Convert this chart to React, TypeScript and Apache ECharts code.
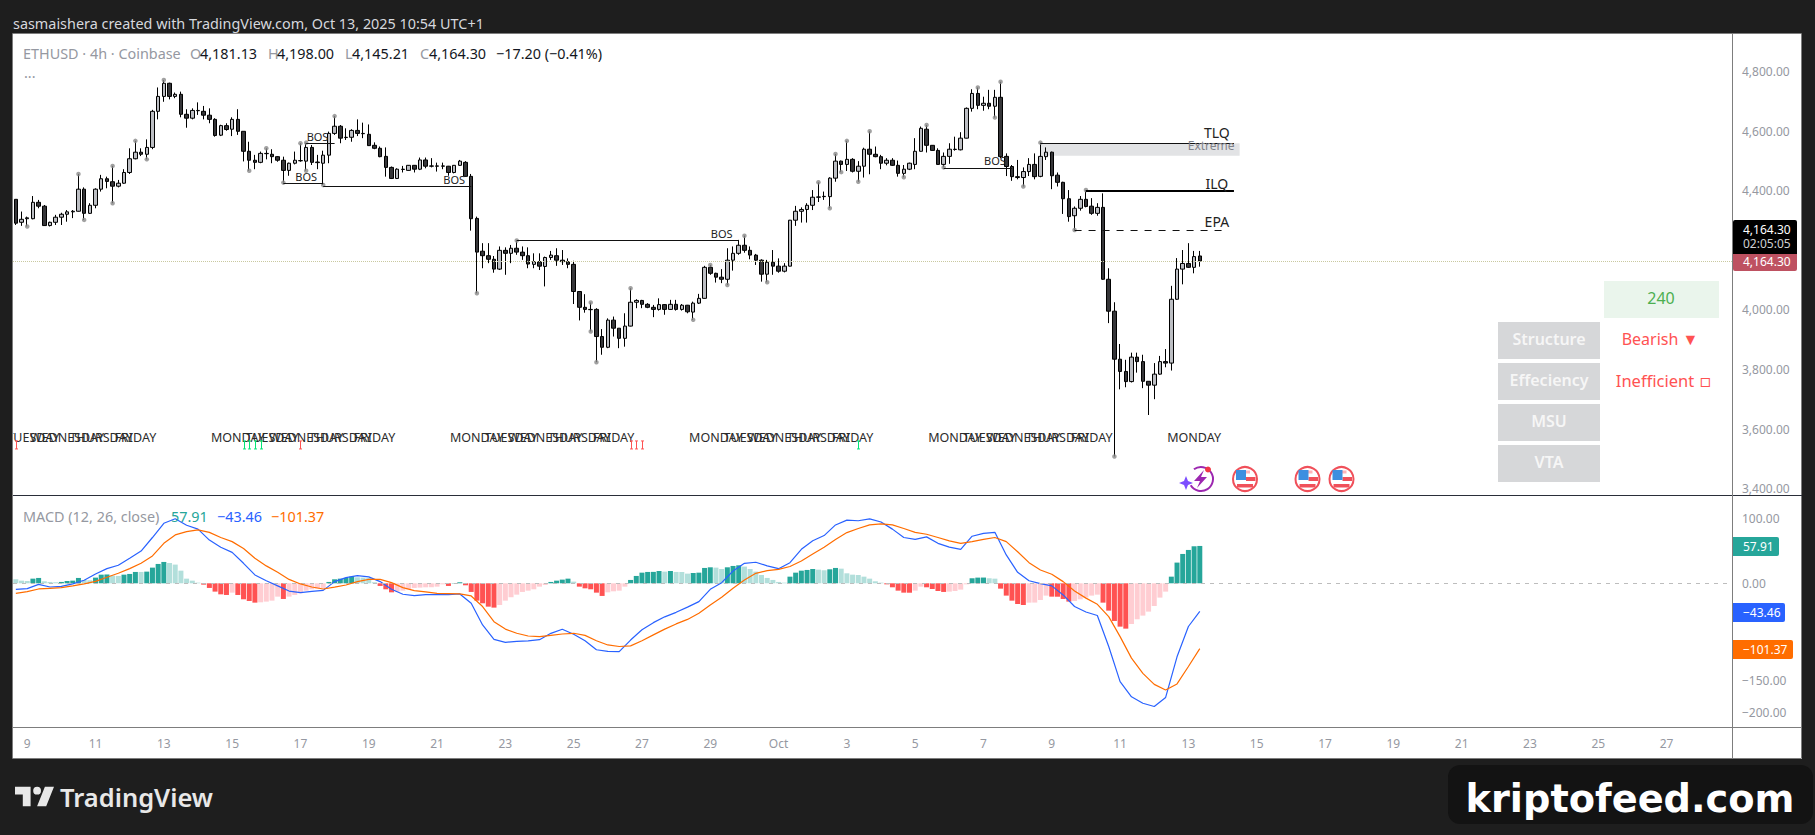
import React, { useEffect, useRef } from "react";
import * as echarts from "echarts";

const opens = [
4371,4294,4306,4306,4361,4348,4283,4294,4311,4321,
4329,4331,4405,4324,4351,4405,4440,4430,4415,4425,
4461,4507,4529,4522,4545,4666,4716,4760,4716,4723,
4656,4643,4668,4666,4653,4639,4586,4618,4606,4639,
4599,4532,4502,4495,4524,4522,4514,4502,4468,4492,
4500,4499,4545,4494,4492,4519,4592,4616,4578,4579,
4602,4591,4589,4552,4542,4515,4478,4441,4471,4468,
4485,4472,4503,4482,4482,4482,4482,4461,4485,4495,
4448,4307,4197,4182,4170,4137,4200,4190,4207,4194,
4182,4153,4162,4146,4176,4182,4167,4162,4153,4062,
4009,4001,4002,3911,3875,3966,3939,3905,3946,4026,
4032,4019,4009,4002,4018,4002,4019,4002,4016,3993,
4023,4039,4143,4123,4110,4103,4167,4190,4217,4200,
4184,4167,4120,4160,4147,4130,4147,4301,4331,4337,
4351,4378,4380,4380,4442,4499,4488,4505,4465,4482,
4539,4522,4514,4492,4502,4485,4458,4472,4488,4532,
4606,4552,4535,4488,4515,4538,4537,4576,4676,4726,
4686,4693,4683,4713,4515,4481,4444,4444,4464,4488,
4448,4514,4529,4452,4428,4373,4316,4341,4371,4348,
4324,4344,4103,3996,3835,3794,3760,3842,3827,3761,
3748,3785,3827,3822,4036,4137,4156,4143,4181.13];

const highs = [
4371,4330,4313,4382,4369,4352,4296,4319,4326,4335,
4335,4456,4411,4358,4408,4453,4447,4483,4436,4472,
4542,4567,4542,4572,4671,4746,4771,4762,4729,4732,
4673,4676,4696,4684,4676,4643,4621,4626,4646,4673,
4599,4564,4520,4531,4542,4539,4516,4514,4494,4531,
4559,4561,4553,4520,4534,4598,4650,4620,4609,4606,
4639,4628,4622,4562,4548,4545,4481,4475,4483,4486,
4486,4511,4511,4509,4494,4494,4483,4486,4503,4499,
4456,4313,4224,4224,4181,4213,4210,4218,4233,4213,
4210,4190,4190,4179,4198,4207,4201,4173,4165,4062,
4053,4025,4006,3936,3972,3978,3939,3989,4073,4036,
4034,4023,4017,4039,4020,4034,4034,4020,4017,4028,
4054,4148,4151,4125,4137,4207,4213,4235,4249,4213,
4188,4170,4168,4201,4173,4157,4302,4349,4344,4358,
4402,4428,4397,4445,4523,4501,4567,4509,4499,4544,
4599,4548,4520,4509,4509,4501,4486,4494,4576,4615,
4620,4553,4542,4528,4559,4581,4596,4679,4740,4746,
4715,4738,4738,4765,4525,4486,4503,4478,4509,4525,
4561,4545,4531,4461,4430,4402,4347,4382,4402,4375,
4358,4391,4140,4026,3886,3833,3857,3857,3850,3761,
3822,3846,3869,4081,4174,4201,4224,4198,4198];

const lows = [
4285,4282,4280,4304,4341,4282,4280,4285,4285,4296,
4308,4330,4302,4322,4341,4397,4408,4358,4411,4423,
4456,4505,4516,4505,4539,4639,4698,4706,4710,4646,
4611,4639,4654,4639,4626,4581,4583,4601,4583,4587,
4498,4467,4472,4492,4505,4492,4497,4427,4450,4488,
4497,4467,4486,4472,4419,4492,4587,4559,4570,4564,
4583,4576,4550,4539,4512,4447,4439,4439,4461,4467,
4461,4469,4475,4478,4464,4472,4450,4458,4483,4447,
4266,4056,4140,4157,4125,4134,4118,4157,4185,4168,
4140,4140,4134,4079,4168,4148,4151,4140,4020,3965,
3991,3928,3825,3850,3872,3911,3872,3877,3945,4006,
4006,4006,3976,3998,3984,4000,3998,3998,3989,3967,
4020,4038,4118,4092,4090,4084,4132,4185,4192,4170,
4151,4095,4093,4118,4125,4126,4146,4282,4293,4293,
4335,4362,4369,4341,4430,4462,4466,4461,4430,4444,
4455,4512,4472,4485,4483,4447,4445,4469,4472,4531,
4528,4534,4487,4478,4490,4534,4535,4575,4665,4673,
4668,4673,4645,4509,4449,4433,4438,4414,4449,4438,
4445,4503,4405,4414,4322,4296,4268,4333,4344,4319,
4316,4101,3956,3509,3734,3741,3757,3790,3738,3648,
3701,3783,3808,3797,4034,4086,4141,4123,4145.21];

const closes = [
4291,4304,4309,4361,4348,4283,4294,4311,4321,4329,
4331,4405,4324,4351,4405,4440,4431,4415,4425,4461,
4507,4529,4522,4545,4666,4716,4760,4716,4723,4656,
4643,4669,4669,4653,4639,4585,4618,4605,4639,4599,
4532,4502,4495,4525,4525,4514,4502,4468,4492,4502,
4501,4545,4495,4496,4519,4592,4616,4576,4579,4602,
4592,4592,4551,4542,4514,4478,4441,4472,4472,4485,
4472,4503,4482,4483,4483,4483,4461,4485,4499,4448,
4306,4194,4182,4170,4137,4200,4190,4207,4194,4182,
4154,4162,4147,4176,4184,4167,4162,4153,4062,4009,
4002,4002,3911,3875,3966,3939,3905,3946,4026,4032,
4019,4009,4002,4018,4002,4019,4002,4016,3994,4023,
4039,4143,4123,4110,4103,4167,4190,4217,4200,4184,
4167,4120,4160,4147,4130,4147,4301,4331,4337,4351,
4378,4379,4381,4442,4499,4488,4505,4465,4482,4539,
4522,4514,4492,4502,4485,4458,4472,4492,4532,4609,
4552,4535,4488,4515,4539,4539,4576,4676,4726,4686,
4693,4683,4713,4514,4481,4447,4447,4464,4488,4447,
4515,4529,4450,4428,4373,4313,4341,4371,4347,4324,
4344,4103,3996,3835,3794,3760,3842,3827,3761,3748,
3785,3827,3822,4036,4137,4156,4143,4179,4164.30];

const histogram = [
6.2,4.1,3.6,7.2,8.3,3.1,2.1,1.6,2.1,3.6,
4.1,8.3,5.2,4.7,8.8,13.4,13.7,11.9,11.4,13.4,
14.5,17.6,17.6,18.1,24.3,30,33.1,31.5,29,19.6,
7.2,4.1,1,-2.1,-7.2,-12.9,-17.1,-18.1,-14.5,-18.1,
-24.8,-27.4,-30,-29.5,-28.4,-26.9,-20.7,-24.3,-20.7,-18.1,
-15.5,-11.4,-9.3,-8.3,-7.2,2.1,6.2,7.2,8.3,10.3,
9.3,8.8,8.3,1.6,-4.1,-9.3,-14,-12.9,-11.4,-9.3,
-7.2,-6.7,-6.2,-6.1,-5.2,-1.6,-4.1,0.5,1.6,-3.1,
-13.4,-26.9,-31,-36.2,-37.7,-33.6,-26.9,-21.7,-17.6,-13.4,
-11.4,-9.3,-5.2,-2.6,2.1,4.1,5.7,7.2,2.6,-5.2,
-7.8,-9.3,-14.5,-19.6,-14,-12.4,-11.4,-5.2,
5.2,11.4,16.5,17.6,17.7,19.1,18.1,19.1,17.6,17.5,
15,16,16.5,23.8,24.8,24.3,22.2,24.8,26.9,27.9,
25.9,22.2,18.1,12.9,8.3,5.2,2.1,1,
10.3,16.5,19.6,20.7,22.2,21.2,20.2,21.7,23.8,22.7,
15.5,13.4,12.9,10.3,7.2,3.1,1,
-1.6,-6.2,-11.4,-14.5,-14.6,-11.4,-5.2,-6.2,-8.8,-11.9,-13.4,
-12.9,-11.9,-9.8,-1.6,
7.8,8.8,8.9,7.8,7.2,
-8.3,-19.1,-26.9,-32.1,-33.6,-30,-29.9,-25.9,-19.1,
-20.7,-20.8,-24.3,-28.4,-27.4,-24.8,-22.2,-19.1,-17.6,
-30,-42.4,-58.4,-67.2,-70.3,-63.1,-55.8,-50.1,-43.9,-35.2,-22.2,-12.9,
10.3,32.1,45.5,51.7,57.4,57.91];

// read at every second bar
const macdEven = [
-9.3,-8.3,-1.6,-5.7,-4.7,-1,4.7,14.5,22.7,28,
38.8,50,71,93,100,90,84,67,56,48,
31,13,4,-4,-12,-14.5,-12.4,-11,2.6,8.8,
12,10,2.6,-9.3,-17,-19,-17.6,-17.6,-17.6,-16.5,
-31,-64.6,-87,-91.5,-90,-89.4,-87.4,-77.6,-71.3,-79,
-89,-103,-105.5,-106,-88,-72,-61,-52,-45,-37,
-28.4,-9.3,1,19,31,32.6,27,22.7,32,52.7,
66,74,90.5,98,97,100,95,84,71,68,
72,62,56,52.7,73,77.5,79,44,17,4,
-0.5,-4,-18,-36,-44.5,-50,-98,-152.5,-176,-186,
-191,-177,-114,-67,-43.46];

const signalEven = [
-15.5,-13,-8.8,-7.8,-6.7,-4,-1,3,9.3,15.5,
22.7,31,42.4,62,75,80,82.7,79,71,64.6,
54,38.8,27,17,6,-1,-5.7,-8.8,-6,-2.6,
2.6,6,6,1,-6.7,-11.4,-13.4,-15.5,-16,-16.5,
-19.6,-36,-59.5,-71,-77.5,-81.7,-82.7,-80.7,-78.6,-77.5,
-80.7,-89,-95.6,-98,-97,-89,-80,-71,-63,-56,
-46.5,-33.6,-21.7,-7.8,5,15.5,19.6,21.7,26,34.6,
45.5,56,68,78.6,85,90.5,92,90.5,85,79,
76,71,65.7,62,64.6,68,71,64.6,49,32,
20.7,14,2.6,-12,-23,-32.6,-51.7,-82.7,-116,-139.6,
-156.7,-165.4,-156,-129,-101.37];

const dateLabels = ["9","11","13","15","17","19","21","23","25","27","29","Oct","3","5","7","9","11","13","15","17","19","21","23","25","27"];
const priceTicks = [3400, 3600, 3800, 4000, 4400, 4600, 4800];
const macdTicks = [-200, -150, 0, 100];
const swingHighBars = [11,17,21,26,44,50,51,56,88,101,108,122,128,141,144,146,150,160,169,173,180,188];
const swingLowBars = [2,12,17,23,41,47,51,54,81,101,102,119,125,132,143,145,148,156,163,172,177,186,193];
const structureBreaks = [[47,54,4426],[54,80,4416],[51,56,4559],[88,127,4234],[163,175,4476]];
const bosLabels = [[53,4581],[51,4447],[77,4437],[124,4255],[172,4500]];
const tlqLevel = [180,214,4559];
const ilqLevel = [188,214,4399];
const epaLevel = [186,213,4267];
const extremeZone = [180,215,4559,4517];
const levelLabels = [[211,4594,"TLQ"],[211,4425,"ILQ"],[211,4295,"EPA"]];
const weekdayPrice = 3574;
const weekStarts: [number, string[]][] = [
  [3,["TUESDAY","WEDNESDAY","THURSDAY","FRIDAY"]],
  [39,["MONDAY","TUESDAY","WEDNESDAY","THURSDAY","FRIDAY"]],
  [81,["MONDAY","TUESDAY","WEDNESDAY","THURSDAY","FRIDAY"]],
  [123,["MONDAY","TUESDAY","WEDNESDAY","THURSDAY","FRIDAY"]],
  [165,["MONDAY","TUESDAY","WEDNESDAY","THURSDAY","FRIDAY"]],
  [207,["MONDAY"]],
];
const greenMarks = [40,41,42,43,148];
const redMarks = [0,50,108,109,110];

const FONT = '"Noto Sans", sans-serif';
const UP = "#bcbec3";
const DOWN = "#363639";
const BAR_COUNT = 302;

echarts.graphic.registerShape(
  "tvlogo",
  echarts.graphic.extendPath("M14 6H2v6h6v9h6V6Zm12 15h-7l6-15h7l-6 15Zm-7-9a3 3 0 1 0 0-6 3 3 0 0 0 0 6Z", {})
);

function txt(x: number, y: number, text: string, fill: string, fontSize = 12, extra: any = {}) {
  return {
    type: "text", x, y, z: 30,
    style: { text, fill, fontSize, fontFamily: extra.fontFamily || FONT, align: extra.align || "left", verticalAlign: "middle", fontWeight: extra.fontWeight || "normal" },
  };
}
function box(x: number, y: number, w: number, h: number, fill: string, r: any = 0, z = 25) {
  return { type: "rect", z, shape: { x, y, width: w, height: h, r }, style: { fill } };
}
function usFlag(cx: number, cy: number) {
  return {
    type: "group", x: cx, y: cy, z: 30,
    children: [
      { type: "circle", shape: { cx: 0, cy: 0, r: 12 }, style: { fill: "#fff", stroke: "#f0505a", lineWidth: 2 } },
      { type: "rect", shape: { x: -4, y: -8.5, width: 9, height: 3 }, style: { fill: "#ffb3b8" } },
      { type: "rect", shape: { x: 1, y: -2, width: 9.5, height: 4 }, style: { fill: "#f0505a" } },
      { type: "rect", shape: { x: -8, y: 5, width: 16, height: 3.5 }, style: { fill: "#f0505a" } },
      { type: "rect", shape: { x: -9, y: -9, width: 10, height: 10 }, style: { fill: "#3d8fe0" } },
    ],
  };
}

function buildOption() {
  const candles = opens.map((o, i) => [o, closes[i], lows[i], highs[i]]);
  const categories = Array.from({ length: BAR_COUNT }, (_, i) => String(i));
  const dateAt: Record<number, string> = {};
  dateLabels.forEach((d, k) => { dateAt[2 + 12 * k] = d; });
  const histData = histogram.map((v, i) => {
    const rising = i === 0 ? false : histogram[i - 1] < v;
    const color = v >= 0 ? (rising ? "#26a69a" : "#b2dfdb") : (rising ? "#ffcdd2" : "#ff5252");
    return { value: v, itemStyle: { color } };
  });
  const evenPairs = (arr: number[]) => arr.map((v, k) => [k * 2, v]);
  const weekdayPoints: any[][] = [];
  weekStarts.forEach(([start, names]) => names.forEach((n, k) => weekdayPoints.push([start + 6 * k, weekdayPrice, n])));
  const plainText = (items: any[][], getText: (i: number) => string, fill: string, fontSize: number) => ({
    type: "custom", xAxisIndex: 0, yAxisIndex: 0, z: 6, silent: true, clip: true,
    encode: { x: 0, y: 1 },
    data: items.map((r) => [r[0], r[1]]),
    renderItem: (params: any, api: any) => {
      const p = api.coord([api.value(0), api.value(1)]);
      return { type: "text", style: { x: p[0], y: p[1], text: getText(params.dataIndex), fill, fontSize, fontFamily: FONT, align: "center", verticalAlign: "middle" } };
    },
  });
  const marks = (bars: number[], color: string) => ({
    type: "custom", xAxisIndex: 0, yAxisIndex: 0, z: 6, silent: true, clip: true,
    encode: { x: 0, y: 1 },
    data: bars.map((b) => [b, 3561]),
    renderItem: (_: any, api: any) => {
      const a = api.coord([api.value(0), api.value(1)]);
      const x = Math.round(a[0]) + 0.5, y0 = a[1], y1 = a[1] + 8;
      return {
        type: "group",
        children: [
          { type: "line", shape: { x1: x, y1: y0, x2: x, y2: y1 }, style: { stroke: color, lineWidth: 1 } },
          { type: "line", shape: { x1: x - 1.5, y1: y1, x2: x + 1.5, y2: y1 }, style: { stroke: color, lineWidth: 1 } },
          { type: "line", shape: { x1: x - 1.5, y1: y0, x2: x + 1.5, y2: y0 }, style: { stroke: color, lineWidth: 1 } },
        ],
      };
    },
  });
  const levelPair = (l: number[], lineStyle: any) => [
    { coord: [l[0], l[2]], lineStyle },
    { coord: [l[1], l[2]], lineStyle },
  ];
  const thin = { color: "#111", width: 1, type: "solid" };
  const LEG = 14.4;

  const graphicEls: any[] = [
    box(13, 34, 1789, 725, "#ffffff", 0, -10),
    { type: "rect", z: 28, shape: { x: 12.5, y: 33.5, width: 1789, height: 725 }, style: { fill: "none", stroke: "#7d7d7d", lineWidth: 1 } },
    { type: "line", z: 28, shape: { x1: 13, y1: 495.5, x2: 1802, y2: 495.5 }, style: { stroke: "#2a2e39", lineWidth: 1 } },
    { type: "line", z: 28, shape: { x1: 13, y1: 727.5, x2: 1802, y2: 727.5 }, style: { stroke: "#7d7d7d", lineWidth: 1 } },
    { type: "line", z: 28, shape: { x1: 1732.5, y1: 34, x2: 1732.5, y2: 759 }, style: { stroke: "#7d7d7d", lineWidth: 1 } },

    txt(13, 23, "sasmaishera created with TradingView.com, Oct 13, 2025 10:54 UTC+1", "#d6d8dd", LEG),

    txt(23, 53, "ETHUSD · 4h · Coinbase", "#9598a1", LEG),
    txt(190, 53, "O", "#9598a1", LEG), txt(200, 53, "4,181.13", "#131722", LEG),
    txt(268, 53, "H", "#9598a1", LEG), txt(277, 53, "4,198.00", "#131722", LEG),
    txt(345, 53, "L", "#9598a1", LEG), txt(352, 53, "4,145.21", "#131722", LEG),
    txt(420, 53, "C", "#9598a1", LEG), txt(429, 53, "4,164.30", "#131722", LEG),
    txt(496, 53, "−17.20 (−0.41%)", "#131722", LEG),
    txt(24, 76, "···", "#9598a1", LEG),

    txt(23, 516, "MACD (12, 26, close)", "#9598a1", LEG),
    txt(171, 516, "57.91", "#26a69a", LEG),
    txt(217, 516, "−43.46", "#2962ff", LEG),
    txt(271, 516, "−101.37", "#ff6d00", LEG),

    box(1733, 220, 64, 34, "#000000", [2, 2, 0, 0]),
    txt(1743, 229, "4,164.30", "#ffffff", 12),
    txt(1743, 243, "02:05:05", "#cfd0d3", 12),
    box(1733, 254, 64, 17, "#be5161", [0, 0, 2, 2]),
    txt(1743, 261.5, "4,164.30", "#ffffff", 12),
    box(1733, 537, 46, 19, "#26a69a", [0, 2, 2, 0]),
    txt(1743, 546, "57.91", "#ffffff", 12),
    box(1733, 603, 52, 19, "#2962ff", [0, 2, 2, 0]),
    txt(1743, 612, "−43.46", "#ffffff", 12),
    box(1733, 640, 60, 19, "#ff6d00", [0, 2, 2, 0]),
    txt(1743, 649, "−101.37", "#ffffff", 12),

    box(1604, 281, 115, 37, "#eaf5ec"),
    txt(1661, 298, "240", "#4caf50", 16, { align: "center" }),
    box(1498, 322, 102, 37, "#d6d7d9"),
    txt(1549, 339, "Structure", "#f6f6f6", 16, { align: "center", fontWeight: 600 }),
    box(1498, 363, 102, 37, "#d6d7d9"),
    txt(1549, 380, "Effeciency", "#f6f6f6", 16, { align: "center", fontWeight: 600 }),
    box(1498, 404, 102, 37, "#d6d7d9"),
    txt(1549, 421, "MSU", "#f6f6f6", 16, { align: "center", fontWeight: 600 }),
    box(1498, 445, 102, 37, "#d6d7d9"),
    txt(1549, 462, "VTA", "#f6f6f6", 16, { align: "center", fontWeight: 600 }),
    txt(1660, 339, "Bearish ▼", "#ff5252", 16, { align: "center" }),
    txt(1655, 380, "Inefficient", "#ff5252", 16.5, { align: "center" }),
    txt(1705, 380, "▫", "#ff5252", 18, { align: "center", fontFamily: '"DejaVu Sans", sans-serif' }),

    usFlag(1245, 479), usFlag(1307.5, 479), usFlag(1341.5, 479),
    { type: "arc", z: 30, shape: { cx: 1201, cy: 479, r: 12, startAngle: -2.2, endAngle: 2.6, clockwise: true }, style: { fill: "none", stroke: "#9c27b0", lineWidth: 2 } },
    { type: "polygon", z: 30, shape: { points: [[1204,470],[1194,481],[1200,481],[1197,488],[1207,477],[1201,477]] }, style: { fill: "#9c27b0" } },
    { type: "polygon", z: 30, shape: { points: [[1186,476],[1188,481],[1193,483],[1188,485],[1186,490],[1184,485],[1179,483],[1184,481]] }, style: { fill: "#7c4dff" } },
    { type: "circle", z: 31, shape: { cx: 1208, cy: 469.5, r: 3 }, style: { fill: "#f23645" } },

    { type: "tvlogo", z: 30, x: 12.4, y: 779, scaleX: 1.3, scaleY: 1.3, style: { fill: "#e8e8e8" } },
    txt(60, 797, "TradingView", "#e8e8e8", 25.5, { fontWeight: 600 }),

    box(1448, 765, 365, 59, "#131313", 12, 26),
    { type: "text", z: 30, x: 1630, y: 798, style: { text: "kriptofeed.com", fill: "#ffffff", fontSize: 38.3, fontWeight: "bold", fontFamily: '"DejaVu Sans", sans-serif', align: "center", verticalAlign: "middle", textShadowColor: "#000", textShadowOffsetX: 2, textShadowOffsetY: 2, textShadowBlur: 0 } },
  ];

  return {
    animation: false,
    backgroundColor: "#1e1e1e",
    graphic: { elements: graphicEls },
    grid: [
      { left: 13, top: 34, width: 1719, height: 461 },
      { left: 13, top: 495, width: 1719, height: 232 },
    ],
    xAxis: [
      { type: "category", gridIndex: 0, data: categories, show: false },
      {
        type: "category", gridIndex: 1, data: categories,
        axisLine: { show: false }, axisTick: { show: false },
        axisLabel: { interval: 0, hideOverlap: false, margin: 10, color: "#9598a1", fontFamily: FONT, fontSize: 12, formatter: (_: string, i: number) => dateAt[i] || "" },
      },
    ],
    yAxis: [
      {
        type: "value", gridIndex: 0, position: "right", min: 3379.8, max: 4925.2, scale: false,
        axisLine: { show: false }, axisTick: { show: false }, splitLine: { show: false },
        axisLabel: { customValues: priceTicks, align: "left", margin: 10, padding: [0, 0, 3, 0], color: "#9598a1", fontFamily: FONT, fontSize: 12, formatter: (v: number) => v.toLocaleString("en-US", { minimumFractionDigits: 2, maximumFractionDigits: 2 }) },
      },
      {
        type: "value", gridIndex: 1, position: "right", min: -222.8, max: 136.9,
        axisLine: { show: false }, axisTick: { show: false }, splitLine: { show: false },
        axisLabel: { customValues: macdTicks, align: "left", margin: 10, color: "#9598a1", fontFamily: FONT, fontSize: 12, formatter: (v: number) => v.toFixed(2).replace("-", "−") },
      },
    ],
    series: [
      {
        type: "custom", xAxisIndex: 0, yAxisIndex: 0, z: 1, silent: true,
        encode: { x: [0, 1], y: [2, 3] },
        data: [extremeZone],
        renderItem: (_: any, api: any) => {
          const a = api.coord([api.value(0), api.value(2)]);
          const b = api.coord([api.value(1), api.value(3)]);
          return { type: "rect", shape: { x: a[0], y: a[1], width: b[0] - a[0], height: b[1] - a[1] }, style: { fill: "#e2e3e5" } };
        },
      },
      {
        type: "candlestick", xAxisIndex: 0, yAxisIndex: 0, z: 3, barWidth: 4, silent: true,
        data: candles,
        itemStyle: { color: UP, color0: DOWN, borderColor: "#000", borderColor0: "#000", borderWidth: 1 },
        markLine: {
          silent: true, symbol: "none", label: { show: false }, animation: false,
          data: [
            { yAxis: closes[closes.length - 1], lineStyle: { color: "#c9c9a0", type: "dotted", width: 1 } },
            ...structureBreaks.map((b) => levelPair(b, thin)),
            levelPair(tlqLevel, thin),
            levelPair(ilqLevel, { color: "#000", width: 2, type: "solid" }),
            levelPair(epaLevel, { color: "#111", width: 1, type: [7, 7] }),
          ],
        },
      },
      {
        type: "scatter", xAxisIndex: 0, yAxisIndex: 0, z: 4, silent: true, symbolSize: 4.5,
        itemStyle: { color: "#8a8a8a" },
        data: [...swingHighBars.map((i) => [i, highs[i]]), ...swingLowBars.map((i) => [i, lows[i]])],
      },
      plainText(bosLabels, () => "BOS", "#222", 11),
      plainText(levelLabels, (i) => String(levelLabels[i][2]), "#222", 14),
      plainText([[210, 4553]], () => "Extreme", "#80828a", 12),
      plainText(weekdayPoints, (i) => String(weekdayPoints[i][2]), "#2b2b2b", 12.5),
      marks(greenMarks, "#00e676"),
      marks(redMarks, "#ff5252"),
      {
        type: "bar", xAxisIndex: 1, yAxisIndex: 1, z: 3, barWidth: 5, silent: true,
        data: histData,
        markLine: {
          silent: true, symbol: "none", label: { show: false }, animation: false,
          data: [{ yAxis: 0, lineStyle: { color: "#bdbdbd", type: [4, 5], width: 1 } }],
        },
      },
      { type: "line", xAxisIndex: 1, yAxisIndex: 1, z: 4, silent: true, showSymbol: false, data: evenPairs(macdEven), lineStyle: { color: "#2962ff", width: 1.2 } },
      { type: "line", xAxisIndex: 1, yAxisIndex: 1, z: 5, silent: true, showSymbol: false, data: evenPairs(signalEven), lineStyle: { color: "#ff6d00", width: 1.2 } },
    ],
  };
}

export default function App() {
  const ref = useRef<HTMLDivElement>(null);
  useEffect(() => {
    document.body.style.margin = "0";
    const chart = echarts.init(ref.current!, undefined, { renderer: "svg" });
    chart.setOption(buildOption() as any);
    return () => chart.dispose();
  }, []);
  return <div ref={ref} style={{ width: 1815, height: 835 }} />;
}
